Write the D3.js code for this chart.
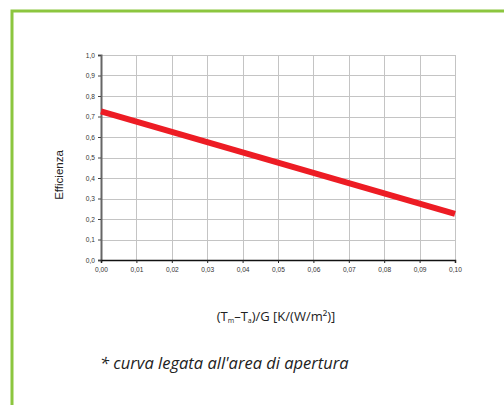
<!DOCTYPE html>
<html lang="it">
<head>
<meta charset="utf-8">
<title>Efficienza</title>
<script src="https://cdn.jsdelivr.net/npm/d3@7"></script>
<style>
  body { margin: 0; background: #fff; }
  .grid line { stroke: #c4c4c4; stroke-width: 1px; }
  .tick text { font-family: "Liberation Sans", Arial, sans-serif; font-size: 6.6px; fill: #333; }
</style>
</head>
<body>
<div id="chart"></div>
<script>
// dati
var xTicks = [0, 0.01, 0.02, 0.03, 0.04, 0.05, 0.06, 0.07, 0.08, 0.09, 0.10];
var yTicks = [0, 0.1, 0.2, 0.3, 0.4, 0.5, 0.6, 0.7, 0.8, 0.9, 1.0];
var curveX = [0, 0.10];
var curveY = [0.725, 0.225];

var W = 504, H = 405;
var margin = {top: 55, left: 101, right: 49, bottom: 145};
var width = W - margin.left - margin.right,
    height = H - margin.top - margin.bottom;

var svg = d3.select("#chart").append("svg")
    .attr("width", W).attr("height", H);

// l'etichetta 0,10 risulta tagliata nell'originale
svg.append("defs").append("clipPath").attr("id", "clip")
  .append("rect").attr("x", 0).attr("y", 0).attr("width", 468).attr("height", H);

// cornice verde
svg.append("path")
    .attr("d", "M12,405 L12,11 L504,11")
    .attr("fill", "none")
    .attr("stroke", "#8cc63f")
    .attr("stroke-width", 3);

var x = d3.scaleLinear().domain([0, 0.10]).range([0, width]);
var y = d3.scaleLinear().domain([0, 1]).range([height, 0]);
var fmt = function(d, n) { return d3.format("." + n + "f")(d).replace(".", ","); };

var outer = svg.append("g").attr("clip-path", "url(#clip)");
var g = outer.append("g").attr("transform", "translate(" + margin.left + "," + margin.top + ")");

// griglia
var grid = g.append("g").attr("class", "grid");
grid.selectAll(".h").data(yTicks.slice(1)).enter().append("line")
    .attr("x1", 0).attr("x2", width)
    .attr("y1", function(d) { return Math.round(y(d)) + 0.5; })
    .attr("y2", function(d) { return Math.round(y(d)) + 0.5; });
grid.selectAll(".v").data(xTicks.slice(1)).enter().append("line")
    .attr("y1", 0).attr("y2", height)
    .attr("x1", function(d) { return Math.round(x(d)) + 0.5; })
    .attr("x2", function(d) { return Math.round(x(d)) + 0.5; });

// assi
var yAxis = g.append("g")
    .call(d3.axisLeft(y).tickValues(yTicks).tickSize(3).tickPadding(3)
      .tickFormat(function(d) { return fmt(d, 1); }));
yAxis.select(".domain").attr("stroke", "#666").attr("stroke-width", 2);
yAxis.selectAll(".tick line").attr("stroke", "#444");

var xAxis = g.append("g")
    .attr("transform", "translate(0," + height + ")")
    .call(d3.axisBottom(x).tickValues(xTicks).tickSize(3).tickPadding(4)
      .tickFormat(function(d) { return fmt(d, 2); }));
xAxis.select(".domain").attr("stroke", "#111").attr("stroke-width", 1.5);
xAxis.selectAll(".tick line").attr("stroke", "#222");

// curva
var line = d3.line()
    .x(function(d, i) { return x(curveX[i]); })
    .y(function(d) { return y(d); });
g.append("path")
    .datum(curveY)
    .attr("d", line)
    .attr("fill", "none")
    .attr("stroke", "#ed1c24")
    .attr("stroke-width", 6);

// titoli
svg.append("text")
    .attr("transform", "translate(63,175) rotate(-90)")
    .attr("text-anchor", "middle")
    .style("font-family", "Liberation Sans, Arial, sans-serif")
    .style("font-size", "11.5px")
    .style("fill", "#222")
    .text("Efficienza");

var xt = svg.append("text")
    .attr("x", 276).attr("y", 321)
    .attr("text-anchor", "middle")
    .style("font-family", "Open Sans, sans-serif")
    .style("font-size", "13px")
    .style("fill", "#222");
xt.append("tspan").text("(T");
xt.append("tspan").attr("dy", 2).style("font-size", "7px").text("m");
xt.append("tspan").attr("dy", -2).text("–T");
xt.append("tspan").attr("dy", 2).style("font-size", "7px").text("a");
xt.append("tspan").attr("dy", -2).text(")/G [K/(W/m²)]");

svg.append("text")
    .attr("x", 100).attr("y", 369)
    .style("font-family", "Open Sans, sans-serif")
    .style("font-style", "italic")
    .style("font-size", "16.5px")
    .style("fill", "#222")
    .text("* curva legata all'area di apertura");
</script>
</body>
</html>
